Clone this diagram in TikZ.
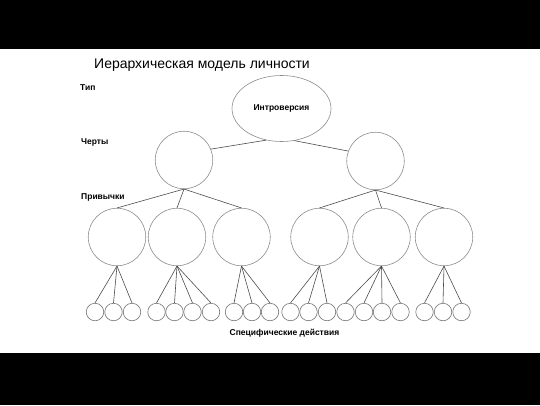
\documentclass[tikz,border=0pt]{standalone}
\usepackage{fontspec}
\setmainfont{Liberation Sans}
\usetikzlibrary{shapes.geometric}
\begin{document}
\begin{tikzpicture}[x=1pt,y=-1pt,
  big/.style={circle,draw=black!45,line width=0.6pt,minimum size=57.5pt,inner sep=0pt},
  small/.style={circle,draw=black!55,line width=0.6pt,minimum size=17.5pt,inner sep=0pt},
  link/.style={draw=black!70,line width=0.6pt},
  lbl/.style={font=\fontsize{8.5}{10}\selectfont\bfseries,inner sep=0pt},
]
\useasboundingbox (0,0) rectangle (540,405);
\fill[black] (0,0) rectangle (540,49);
\fill[black] (0,353) rectangle (540,405);

\node[inner sep=0pt,font=\fontsize{14}{16}\selectfont] (title) at (202,65) {Иерархическая модель личности};
\node[lbl,anchor=west] (tip) at (80,88) {Тип};
\node[lbl,anchor=west] (cherty) at (81,142) {Черты};
\node[lbl,anchor=west] (priv) at (81,197) {Привычки};
\node[lbl] (spec) at (284.5,333) {Специфические действия};

\node[ellipse,draw=black!45,line width=0.6pt,minimum width=99pt,minimum height=66pt,inner sep=0pt,lbl] (E) at (281.5,108.5) {Интроверсия};

\node[big] (T1) at (184,160) {};
\node[big] (T2) at (375.5,161) {};

\node[big] (H1) at (117,237) {};
\node[big] (H2) at (177,237) {};
\node[big] (H3) at (241.5,237) {};
\node[big] (H4) at (319.5,237) {};
\node[big] (H5) at (381.5,237) {};
\node[big] (H6) at (444,237) {};

\foreach \i/\x in {1/95,2/113.5,3/132,4/156.5,5/174.5,6/192.5,7/211,8/234,9/252,10/270,
                   11/290.5,12/308.5,13/327,14/345.5,15/364,16/382,17/400.5,18/424.5,19/443,20/461.5}
  \node[small] (S\i) at (\x,312) {};

\draw[link] (E.244) -- (T1.22);
\draw[link] (E.292) -- (T2.160);

\foreach \h in {H1,H2,H3} \draw[link] (T1.south) -- (\h.north);
\foreach \h in {H4,H5,H6} \draw[link] (T2.south) -- (\h.north);

\foreach \s in {1,2,3} \draw[link] (H1.south) -- (S\s.north);
\foreach \s in {4,5,6,7} \draw[link] (H2.south) -- (S\s.north);
\foreach \s in {8,9,10} \draw[link] (H3.south) -- (S\s.north);
\foreach \s in {11,12,13} \draw[link] (H4.south) -- (S\s.north);
\foreach \s in {14,15,16,17} \draw[link] (H5.south) -- (S\s.north);
\foreach \s in {18,19,20} \draw[link] (H6.south) -- (S\s.north);
\end{tikzpicture}
\end{document}
